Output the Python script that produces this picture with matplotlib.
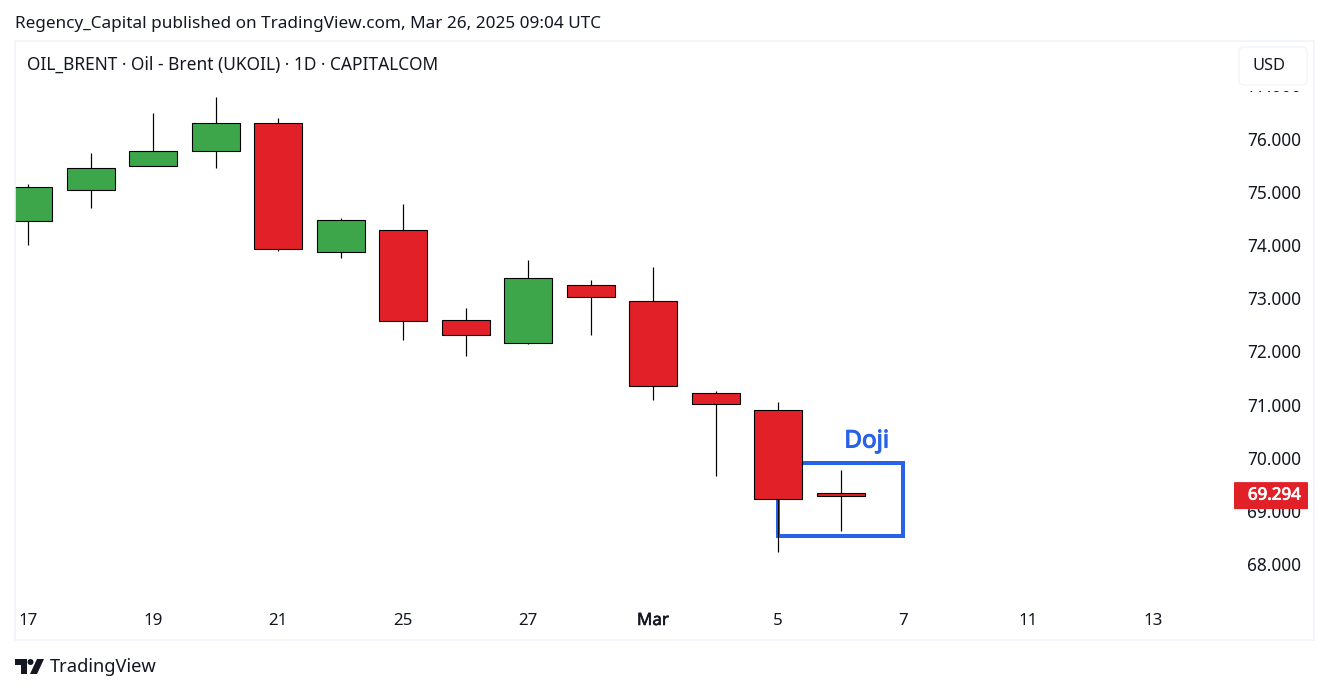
import matplotlib
matplotlib.use("Agg")
import matplotlib.pyplot as plt
import matplotlib.patheffects as pe
from matplotlib.patches import Rectangle, FancyBboxPatch, Polygon, Circle
from matplotlib.transforms import blended_transform_factory

plt.rcParams['font.family'] = ['Noto Sans', 'DejaVu Sans']

W, H = 1329, 693

opens  = [74.45, 75.03, 75.48, 75.77, 76.29, 73.87, 74.28, 72.59, 72.16, 73.25, 72.95, 71.22, 70.90, 69.34]
closes = [75.09, 75.45, 75.77, 76.29, 73.92, 74.47, 72.57, 72.31, 73.38, 73.02, 71.35, 71.01, 69.23, 69.294]
highs  = [75.15, 75.73, 76.48, 76.78, 76.38, 74.51, 74.77, 72.82, 73.72, 73.34, 73.59, 71.26, 71.05, 69.78]
lows   = [74.00, 74.69, 75.48, 75.45, 73.89, 73.76, 72.22, 71.92, 72.14, 72.31, 71.09, 69.66, 68.24, 68.63]
date_ticks = [0, 2, 4, 6, 8, 10, 12, 14, 16, 18]
date_labels = ['17', '19', '21', '25', '27', 'Mar', '5', '7', '11', '13']
price_ticks = [68, 69, 70, 71, 72, 73, 74, 75, 76, 77]
last_price = 69.294
box_x = [12, 14]
box_y = [68.53, 69.90]

GREEN, RED, BLUE = '#3DA64A', '#E22028', '#2962E8'
INK = '#131722'
BORDER = '#F0F3FA'
px = 72 / 100


def heavy(color, width=0.7):
    return [pe.withStroke(linewidth=width * px, foreground=color)]


fig = plt.figure(figsize=(W / 100, H / 100), dpi=100, facecolor='white')

# main pane, placed in pixels
L, R, T, B = 15, 1234, 42, 605
ax = fig.add_axes([L / W, 1 - B / H, (R - L) / W, (B - T) / H])
ax.set_xlim((L - 28) / 62.5, (R - 28) / 62.5)
ax.set_ylim(76 - (B - 138.5) / 53.25, 76 + (138.5 - T) / 53.25)
for s in ax.spines.values():
    s.set_visible(False)
ax.yaxis.tick_right()
ax.set_yticks(price_ticks, [f'{p:.3f}' for p in price_ticks])
ax.set_xticks(date_ticks, date_labels)
ax.tick_params(axis='y', length=0, pad=13 * px, labelsize=12.4, labelcolor=INK)
ax.tick_params(axis='x', length=0, pad=8 * px, labelsize=12.2, labelcolor=INK)
for lab in ax.get_xticklabels():
    if lab.get_text() == 'Mar':
        lab.set_path_effects(heavy(INK, 0.6))

# blue annotation box under the candles
ax.add_patch(Rectangle((box_x[0], box_y[0]), box_x[1] - box_x[0], box_y[1] - box_y[0],
                       fill=False, ec=BLUE, lw=4 * px, zorder=1, joinstyle='miter'))
ax.text(13.42, 70.31, 'Doji', color=BLUE, fontsize=17.4,
        ha='center', va='center', zorder=1, path_effects=heavy(BLUE, 1.1))

# candles
xs = list(range(len(opens)))
colors = [GREEN if c >= o else RED for o, c in zip(opens, closes)]
ax.vlines(xs, lows, highs, color='black', lw=1.2 * px, zorder=2)
ax.bar(xs, [abs(c - o) for o, c in zip(opens, closes)],
       bottom=[min(o, c) for o, c in zip(opens, closes)],
       width=48 / 62.5, color=colors, edgecolor='black', linewidth=1.1 * px, zorder=3)

# overlay in pixel coordinates for the page furniture
ov = fig.add_axes([0, 0, 1, 1], facecolor='none')
ov.set_xlim(0, W)
ov.set_ylim(H, 0)
ov.axis('off')

ov.add_patch(Rectangle((15, 41), 1299, 599, fill=False, ec=BORDER, lw=1.6 * px))
ov.text(15, 23.5, 'Regency_Capital published on TradingView.com, Mar 26, 2025 09:04 UTC',
        fontsize=12.33, color=INK, va='center', ha='left')
ov.text(27, 64.5, 'OIL_BRENT · Oil - Brent (UKOIL) · 1D · CAPITALCOM',
        fontsize=12.5, color=INK, va='center', ha='left')

# USD button masks the top price label
ov.add_patch(Rectangle((1236, 44), 72, 46.5, fc='white', ec='none', zorder=2))
ov.add_patch(FancyBboxPatch((1242, 50), 62, 32, boxstyle='round,pad=3,rounding_size=5',
                            fc='white', ec=BORDER, lw=1.2 * px, zorder=3))
ov.text(1269, 66.5, 'USD', fontsize=11.8, color=INK, ha='center', va='center', zorder=4)

# last price badge, tied to the price scale
tr = blended_transform_factory(ov.transData, ax.transData)
badge_h = 27 / 53.25
ov.add_patch(FancyBboxPatch((1234, last_price - badge_h / 2), 74, badge_h,
                            boxstyle='round,pad=0,rounding_size=1', fc=RED, ec='none',
                            transform=tr, zorder=5, mutation_aspect=0.02))
ov.text(1301, last_price, f'{last_price:.3f}', transform=tr, color='white',
        fontsize=12.2, ha='right', va='center', zorder=6, path_effects=heavy('white', 0.8))

# TradingView logo
ov.add_patch(Polygon([(15, 659), (27, 659), (27, 674), (21, 674), (21, 665), (15, 665)],
                     fc=INK, ec='none'))
ov.add_patch(Circle((30.5, 662), 3, fc=INK, ec='none'))
ov.add_patch(Polygon([(37, 659), (44, 659), (37, 674), (30, 674)], fc=INK, ec='none'))
ov.text(50, 667.5, 'TradingView', fontsize=13.2, color=INK, ha='left', va='center')

fig.savefig('out.png', dpi=100)
